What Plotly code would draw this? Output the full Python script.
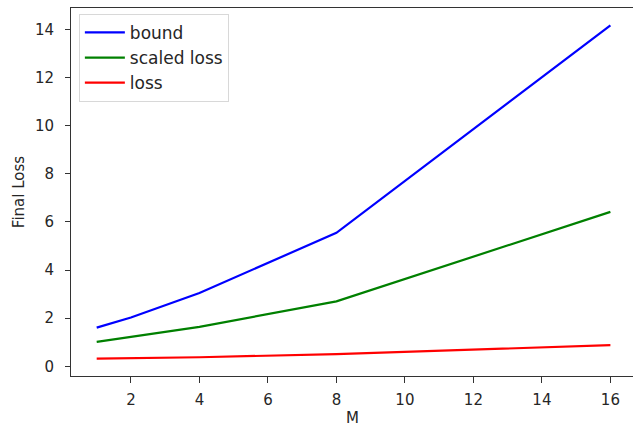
import plotly.graph_objects as go

M = [1, 2, 4, 8, 16]
bound = [1.61, 2.03, 3.05, 5.55, 14.17]
scaled_loss = [1.02, 1.22, 1.64, 2.70, 6.42]
loss = [0.32, 0.34, 0.38, 0.51, 0.88]

series = [("bound", bound, "#0000ff"), ("scaled loss", scaled_loss, "#008000"), ("loss", loss, "#ff0000")]

fig = go.Figure()
for name, vals, col in series:
    fig.add_trace(go.Scatter(x=M, y=vals, mode="lines", name=name, legendgroup=name,
                             line=dict(color=col, width=2.2)))

tick_font = dict(family="DejaVu Sans", size=15, color="#262626")
title_font = dict(family="DejaVu Sans", size=15, color="#262626")
legend_font = dict(family="DejaVu Sans", size=17, color="#262626")

fig.update_layout(
    width=633, height=426,
    margin=dict(l=71, r=0, t=8, b=50),
    paper_bgcolor="white", plot_bgcolor="white",
    font=tick_font,
    xaxis=dict(range=[0.25, 16.66], tickvals=[2, 4, 6, 8, 10, 12, 14, 16],
               showline=True, linecolor="#333", linewidth=1, mirror=True,
               ticks="outside", ticklen=6, tickcolor="#333", showgrid=False,
               zeroline=False, tickfont=tick_font, ticklabelstandoff=4,
               automargin=False),
    yaxis=dict(range=[-0.40, 14.89], tickvals=[0, 2, 4, 6, 8, 10, 12, 14],
               showline=True, linecolor="#333", linewidth=1, mirror=False,
               ticks="outside", ticklen=5, tickcolor="#333", showgrid=False,
               zeroline=False, tickfont=tick_font, ticklabelstandoff=8,
               automargin=False,
               title=dict(text="Final Loss", font=title_font, standoff=6)),
    legend=dict(x=0.014, y=0.984, xanchor="left", yanchor="top",
                bgcolor="white", bordercolor="#d8d8d8", borderwidth=1,
                tracegroupgap=6, font=legend_font, traceorder="normal",
                itemwidth=40),
    showlegend=True,
    annotations=[dict(text="M", xref="paper", yref="paper", x=0.5, y=-0.114,
                      xanchor="center", yanchor="middle", showarrow=False,
                      font=title_font)],
)

fig.write_html("out.html")
